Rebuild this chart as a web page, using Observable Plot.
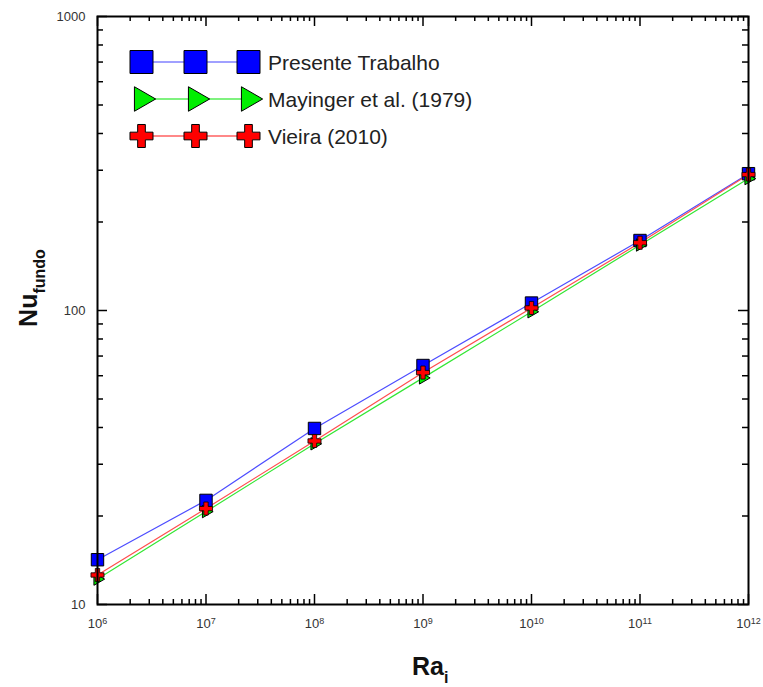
<!DOCTYPE html>
<html><head><meta charset="utf-8">
<script src="https://cdn.jsdelivr.net/npm/d3@7"></script>
<script src="https://cdn.jsdelivr.net/npm/@observablehq/plot@0.6"></script>
<style>body{margin:0;background:#fff} #chart{width:763px;height:687px}</style>
</head><body><div id="chart"></div>
<script>
// ---- data ----
const ra = [1e6, 1e7, 1e8, 1e9, 1e10, 1e11, 1e12];
const presente = [14.2, 22.6, 39.7, 65.0, 106, 173, 292];
const mayinger = [12.2, 20.7, 35.2, 59.0, 99.0, 167, 281];
const vieira   = [12.6, 21.2, 36.0, 61.5, 102, 170, 290];
const seriesNames = ["Presente Trabalho", "Mayinger et al. (1979)", "Vieira (2010)"];
const xMajor = [1e6, 1e7, 1e8, 1e9, 1e10, 1e11, 1e12];
const yMajor = [10, 100, 1000];
const mantissas = [2, 3, 4, 5, 6, 7, 8, 9];
const xMinor = xMajor.slice(0, -1).flatMap(d => mantissas.map(m => m * d));
const yMinor = yMajor.slice(0, -1).flatMap(d => mantissas.map(m => m * d));

// ---- layout / style ----
const W = 763, H = 687, mL = 97, mR = 15, mT = 16, mB = 83;
const innerW = W - mL - mR, innerH = H - mT - mB;
const colors = {line: ["#4d4dff", "#33e633", "#ff4d4d"], fill: ["#0000ff", "#00ee00", "#ff0000"]};
const font = "'Liberation Sans', Arial, Helvetica, sans-serif";

const rows = [];
ra.forEach((x, i) => {
  rows.push({s: 0, x, y: presente[i]});
  rows.push({s: 1, x, y: mayinger[i]});
  rows.push({s: 2, x, y: vieira[i]});
});
const ser = k => rows.filter(d => d.s === k);

const majLen = 10, minLen = 5, yMajLen = 10, yMinLen = 6;
const tickStyle = {stroke: "black", strokeWidth: 1.5};

const chart = Plot.plot({
  width: W, height: H,
  marginLeft: mL, marginRight: mR, marginTop: mT, marginBottom: mB,
  style: {fontFamily: font, background: "white"},
  x: {type: "log", domain: [1e6, 1e12]},
  y: {type: "log", domain: [10, 1000]},
  marks: [
    Plot.axisX(xMajor, {anchor: "bottom", tickSize: 0, tickPadding: 14, fontSize: 13, fill: "#333", label: null,
      tickFormat: d => "10^" + Math.round(Math.log10(d))}),
    Plot.axisY(yMajor, {anchor: "left", tickSize: 0, tickPadding: 12, fontSize: 13, fill: "#333", label: null,
      tickFormat: d => String(d)}),
    // inward ticks
    Plot.tickX(xMinor, {x: d => d, insetTop: innerH - minLen, ...tickStyle}),
    Plot.tickX(xMajor, {x: d => d, insetTop: innerH - majLen, ...tickStyle}),
    Plot.tickX(xMinor, {x: d => d, insetBottom: innerH - minLen, ...tickStyle}),
    Plot.tickX(xMajor, {x: d => d, insetBottom: innerH - majLen, ...tickStyle}),
    Plot.tickY(yMinor, {y: d => d, insetRight: innerW - yMinLen, ...tickStyle}),
    Plot.tickY(yMajor, {y: d => d, insetRight: innerW - yMajLen, ...tickStyle}),
    Plot.tickY(yMinor, {y: d => d, insetLeft: innerW - yMinLen, ...tickStyle}),
    Plot.tickY(yMajor, {y: d => d, insetLeft: innerW - yMajLen, ...tickStyle}),
    // lines
    Plot.line(ser(0), {x: "x", y: "y", stroke: colors.line[0], strokeWidth: 1.2}),
    Plot.line(ser(2), {x: "x", y: "y", stroke: colors.line[2], strokeWidth: 1.2}),
    Plot.line(ser(1), {x: "x", y: "y", stroke: colors.line[1], strokeWidth: 1.2}),
    // markers
    Plot.dot(ser(0), {x: "x", y: "y", symbol: "square", r: 7, fill: colors.fill[0], stroke: "black", strokeWidth: 1}),
    Plot.dot(ser(1), {x: "x", y: "y", symbol: "triangle", r: 4.6, rotate: 90, fill: colors.fill[1], stroke: "black", strokeWidth: 1}),
    Plot.dot(ser(2), {x: "x", y: "y", symbol: "cross", r: 5.5, fill: colors.fill[2], stroke: "black", strokeWidth: 0.8}),
    Plot.frame({stroke: "black", strokeWidth: 2})
  ]
});

document.getElementById("chart").appendChild(chart);
const svg = d3.select(chart);

// tick label styling
svg.selectAll('g[aria-label="x-axis tick label"], g[aria-label="y-axis tick label"]')
  .attr("font-size", 13).attr("fill", "#333");
svg.selectAll('g[aria-label="x-axis tick label"] text, g[aria-label="y-axis tick label"] text')
  .style("font-size", "13px");
// superscript tick labels
svg.selectAll('g[aria-label="x-axis tick label"] text').each(function () {
  const t = d3.select(this);
  const [b, e] = t.text().split("^");
  t.text(null);
  t.append("tspan").text(b);
  t.append("tspan").attr("dy", "-0.45em").attr("font-size", "9px").text(e);
});

// axis titles
const xt = svg.append("text").attr("x", 412).attr("y", 675).attr("text-anchor", "start")
  .attr("font-family", font).attr("font-weight", "bold").attr("font-size", 25).attr("fill", "#111");
xt.append("tspan").text("Ra");
xt.append("tspan").attr("dy", 8).attr("font-size", 16).text("i");

const yt = svg.append("text").attr("transform", "translate(37,288) rotate(-90)").attr("text-anchor", "middle")
  .attr("font-family", font).attr("font-weight", "bold").attr("font-size", 25).attr("fill", "#111");
yt.append("tspan").text("Nu");
yt.append("tspan").attr("dy", 8).attr("font-size", 16).text("fundo");

// legend
const legend = svg.append("g");
const legY = [62, 99, 136];
const legX = [141.5, 195.5, 248.5];
const legSym = [
  {type: d3.symbolSquare, size: 529, rot: 0},
  {type: d3.symbolTriangle, size: 260, rot: 90},
  {type: d3.symbolCross, size: 294, rot: 0}
];
const legLine = ["#8080ff", "#55ee55", "#ff6060"];
seriesNames.forEach((name, i) => {
  const g = legend.append("g");
  g.append("line").attr("x1", legX[0]).attr("x2", legX[2]).attr("y1", legY[i]).attr("y2", legY[i])
    .attr("stroke", legLine[i]).attr("stroke-width", 1.5);
  legX.forEach(x => {
    g.append("path").attr("d", d3.symbol(legSym[i].type, legSym[i].size)())
      .attr("transform", `translate(${x},${legY[i]}) rotate(${legSym[i].rot})`)
      .attr("fill", colors.fill[i]).attr("stroke", "black").attr("stroke-width", 1);
  });
  g.append("text").attr("x", 268).attr("y", legY[i] + 8).attr("text-anchor", "start").attr("font-family", font)
    .attr("font-size", 21).attr("fill", "#222").text(name);
});
</script>
</body></html>
